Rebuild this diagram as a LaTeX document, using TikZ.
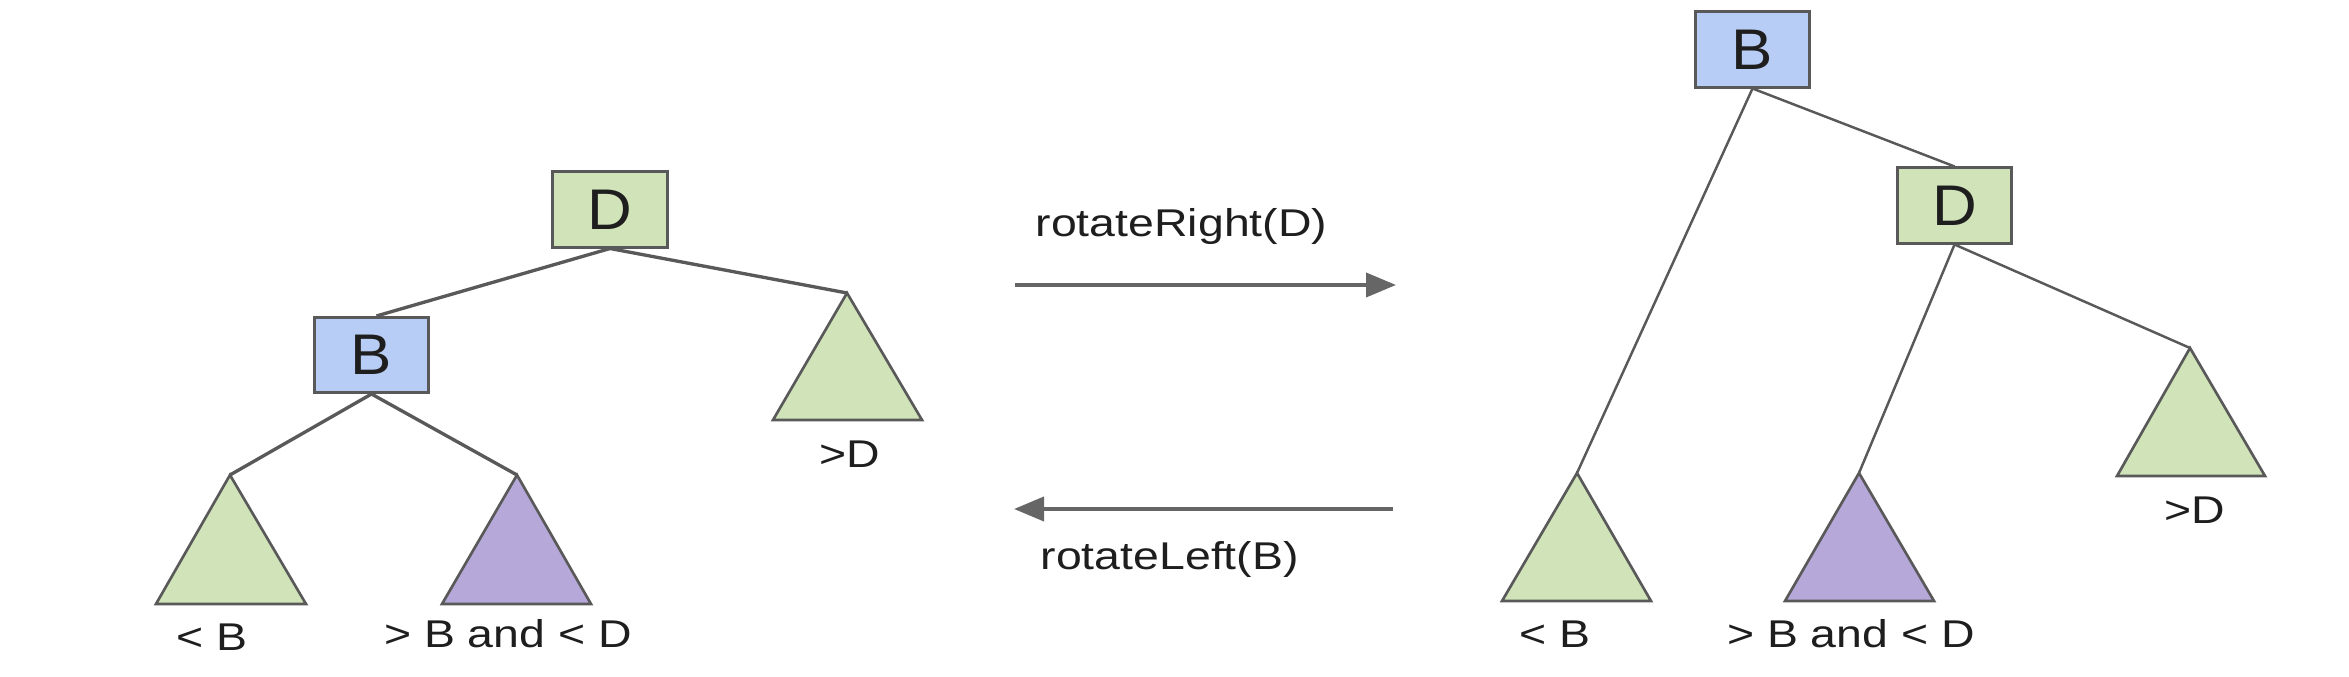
\documentclass[tikz,border=0pt]{standalone}
\usepackage{fontspec}
\setmainfont{Liberation Sans}[FakeStretch=1.2]
\newfontfamily\boxfont{Liberation Sans}[FakeStretch=1.08]
\usetikzlibrary{arrows.meta}
\definecolor{tgreen}{HTML}{D0E3B9}
\definecolor{tblue}{HTML}{B8CDF5}
\definecolor{tpurple}{HTML}{B6A8D8}
\definecolor{lgray}{HTML}{595959}
\definecolor{agray}{HTML}{666666}
\definecolor{txt}{HTML}{1E1E1E}
\tikzset{
  keybox/.style={draw=lgray, line width=0.85pt, minimum width=1.14cm, minimum height=0.75cm,
    inner sep=0pt, font=\boxfont\fontsize{16.3}{18}\selectfont, text=txt},
  subtree/.style={draw=lgray, line width=0.75pt, line join=miter},
  edgel/.style={draw=lgray, line width=0.95pt},
  edger/.style={draw=lgray, line width=0.7pt},
  lbl/.style={anchor=base, inner sep=0pt, font=\fontsize{11}{13}\selectfont, text=txt},
  oplbl/.style={anchor=base west, inner sep=0pt, font=\fontsize{11}{13}\selectfont, text=txt},
  oparrow/.style={draw=agray, line width=1.1pt, -{Triangle[length=0.3cm,width=0.24cm]}}
}
\begin{document}
\begin{tikzpicture}[x=0.01cm, y=-0.01cm]
\useasboundingbox (0,0) rectangle (2349,677);

% ---------- left tree ----------
\node[keybox, fill=tgreen] (lD) at (610,209.5) {D};
\node[keybox, fill=tblue] (lB) at (371.5,355) {B};
\coordinate (lA) at (847,293);
\coordinate (lL) at (230,475);
\coordinate (lM) at (517,475);
\path[subtree, fill=tgreen] (lA) -- (773,420) -- (922,420) -- cycle;
\path[subtree, fill=tgreen] (lL) -- (156,604) -- (306,604) -- cycle;
\path[subtree, fill=tpurple] (lM) -- (442,604) -- (591,604) -- cycle;
\draw[edgel] (lD.south) -- ([xshift=0.05cm]lB.north);
\draw[edgel] (lD.south) -- (lA);
\draw[edgel] (lB.south) -- (lL);
\draw[edgel] (lB.south) -- (lM);
\node[lbl] (lLt) at (212,651) {< B};
\node[lbl] (lMt) at (508,648) {> B and < D};
\node[lbl] (lAt) at (850,468) {>D};

% ---------- operations ----------
\coordinate (r1) at (1015,285);
\coordinate (r2) at (1396,285);
\coordinate (l1) at (1393,509);
\coordinate (l2) at (1014,509);
\draw[oparrow] (r1) -- (r2);
\draw[oparrow] (l1) -- (l2);
\node[oplbl] (rt) at (1035,237) {rotateRight(D)};
\node[oplbl] (lt) at (1040,570) {rotateLeft(B)};

% ---------- right tree ----------
\node[keybox, fill=tblue] (rB) at (1752.5,49.5) {B};
\node[keybox, fill=tgreen] (rD) at (1954.5,205.5) {D};
\coordinate (rL) at (1577,473);
\coordinate (rM) at (1859,473);
\coordinate (rA) at (2190,348);
\path[subtree, fill=tgreen] (rL) -- (1502,601) -- (1651,601) -- cycle;
\path[subtree, fill=tpurple] (rM) -- (1785,601) -- (1934,601) -- cycle;
\path[subtree, fill=tgreen] (rA) -- (2117,476) -- (2265,476) -- cycle;
\draw[edger] (rB.south) -- (rL);
\draw[edger] (rB.south) -- (rD.north);
\draw[edger] (rD.south) -- (rM);
\draw[edger] (rD.south) -- (rA);
\node[lbl] (rLt) at (1555,648) {< B};
\node[lbl] (rMt) at (1851,648) {> B and < D};
\node[lbl] (rAt) at (2195,524) {>D};
\end{tikzpicture}
\end{document}
